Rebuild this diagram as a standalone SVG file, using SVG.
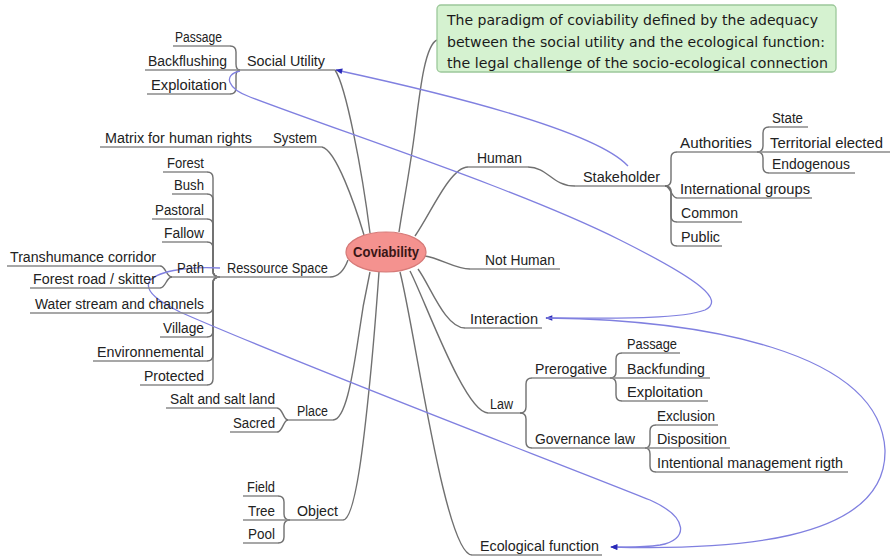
<svg xmlns="http://www.w3.org/2000/svg" width="894" height="557" viewBox="0 0 894 557">
<defs>
<style>
.t{font-family:"Liberation Sans",Arial,sans-serif;font-size:14px;fill:#222}
.u{stroke:#8a8a8a;stroke-width:1.5;fill:none}
.b{stroke:#707070;stroke-width:1.4;fill:none}
.r{stroke:#8080e0;stroke-width:1.3;fill:none}
.g{font-family:"DejaVu Sans",Verdana,sans-serif;font-size:14px;fill:#1a1a1a}
</style>
<marker id="arr" viewBox="0 0 10 10" refX="9" refY="5" markerWidth="8" markerHeight="7" orient="auto" markerUnits="userSpaceOnUse"><path d="M0,1 L10,5 L0,9 z" fill="#2a2ab8"/></marker>
</defs>
<rect width="894" height="557" fill="#ffffff"/>

<g id="connectors">
<!-- main branches -->
<path class="b" d="M335,70 C346,86 362,170 370,233"/>
<path class="b" d="M437,40 C425,45 420,90 415,130 C410,170 403,205 399,232"/>
<path class="b" d="M322,147 C336,150 355,205 364,235"/>
<path class="b" d="M330,277 C340,277 345,268 348,260"/>
<path class="b" d="M333,420 C345,420 352,380 358,340 C362,310 366,290 370,272"/>
<path class="b" d="M343,520 C356,520 365,430 370,380 C374,340 377,300 379,272"/>
<path class="b" d="M400,272 C415,330 445,555 472,555"/>
<path class="b" d="M410,271 C425,300 465,413 488,413"/>
<path class="b" d="M418,269 C430,285 445,328 465,328"/>
<path class="b" d="M425,256 C440,258 455,269 470,269"/>
<path class="b" d="M415,236 C430,215 450,167 468,167"/>
<path class="b" d="M528,167 C548,167 552,186 575,186"/>
<!-- Social Utility bracket -->
<path class="b" d="M240,70 Q236,70 236,64 L236,52 Q236,46 230,46"/>
<path class="b" d="M240,70 Q236,70 236,76 L236,88 Q236,94 230,94"/>
<!-- Ressource Space bracket -->
<path class="b" d="M220,277 Q213,277 213,271 L213,178 Q213,172 207,172"/>
<path class="b" d="M220,277 Q213,277 213,271 L213,200 Q213,194 207,194"/>
<path class="b" d="M220,277 Q213,277 213,271 L213,225 Q213,219 207,219"/>
<path class="b" d="M220,277 Q213,277 213,271 L213,248 Q213,242 207,242"/>
<path class="b" d="M220,277 Q213,277 213,283 L213,307 Q213,313 207,313"/>
<path class="b" d="M220,277 Q213,277 213,283 L213,331 Q213,337 207,337"/>
<path class="b" d="M220,277 Q213,277 213,283 L213,355 Q213,361 207,361"/>
<path class="b" d="M220,277 Q213,277 213,283 L213,379 Q213,385 207,385"/>
<!-- Path bracket -->
<path class="b" d="M172,277 C166,277 166,266 160,266"/>
<path class="b" d="M172,277 C166,277 166,288 160,288"/>
<!-- Place bracket -->
<path class="b" d="M288,420 C283,420 283,408 277,408"/>
<path class="b" d="M288,420 C283,420 283,432 277,432"/>
<!-- Object bracket -->
<path class="b" d="M290,520 Q284,520 284,514 L284,502 Q284,496 278,496"/>
<path class="b" d="M290,520 Q284,520 284,526 L284,537 Q284,543 278,543"/>
<!-- Stakeholder bracket -->
<path class="b" d="M665,186 Q671,186 671,180 L671,158 Q671,152 677,152"/>
<path class="b" d="M665,186 C671,186 671,198 677,198"/>
<path class="b" d="M665,186 Q671,186 671,192 L671,216 Q671,222 677,222"/>
<path class="b" d="M665,186 Q671,186 671,192 L671,240 Q671,246 677,246"/>
<!-- Authorities bracket -->
<path class="b" d="M757,152 Q763,152 763,146 L763,133 Q763,127 769,127"/>
<path class="b" d="M757,152 Q763,152 763,158 L763,167 Q763,173 769,173"/>
<!-- Law bracket -->
<path class="b" d="M520,413 Q526,413 526,407 L526,384 Q526,378 532,378"/>
<path class="b" d="M520,413 Q526,413 526,419 L526,442 Q526,448 532,448"/>
<!-- Prerogative bracket -->
<path class="b" d="M610,378 Q616,378 616,372 L616,359 Q616,353 622,353"/>
<path class="b" d="M610,378 Q616,378 616,384 L616,395 Q616,401 622,401"/>
<!-- Governance law bracket -->
<path class="b" d="M645,448 Q650,448 650,442 L650,431 Q650,425 656,425"/>
<path class="b" d="M645,448 Q650,448 650,454 L650,466 Q650,472 656,472"/>
<!-- relations -->
<path class="r" d="M628,166 Q590,125 336,70" marker-end="url(#arr)"/>
<path class="r" d="M240,71 C222,75 228,89 250,97 C350,135 520,190 620,240 C700,280 725,300 705,310 C680,320 600,318 546,318" marker-end="url(#arr)"/>
<path class="r" d="M220,268 C185,266 155,272 149,282 C145,292 160,302 180,312 C300,365 550,460 650,500 C690,518 688,540 660,545 C640,548 625,547 611,547" marker-end="url(#arr)"/>
<path class="r" d="M547,318 C700,320 880,350 885,450 C887,545 720,550 611,547" marker-end="url(#arr)"/>
</g>

<g id="n-topic">
<rect x="437" y="5" width="399" height="67" rx="4" fill="#d5f2d0" stroke="#9cc89a" stroke-width="1.3"/>
<text class="g" x="447" y="25" textLength="371" lengthAdjust="spacingAndGlyphs">The paradigm of coviability defined by the adequacy</text>
<text class="g" x="447" y="47" textLength="378" lengthAdjust="spacingAndGlyphs">between the social utility and the ecological function:</text>
<text class="g" x="447" y="68" textLength="381" lengthAdjust="spacingAndGlyphs">the legal challenge of the socio-ecological connection</text>
</g>

<g id="n-coviability">
<ellipse cx="386" cy="252" rx="40" ry="20" fill="#f4928f" stroke="#d67a78" stroke-width="1.2"/>
<text x="386" y="257" text-anchor="middle" font-family="Liberation Sans,Arial,sans-serif" font-size="15" font-weight="bold" fill="#3a1616" textLength="66" lengthAdjust="spacingAndGlyphs">Coviability</text>
</g>

<g id="n-social-utility"><line class="u" x1="240" y1="70" x2="335" y2="70"/><text class="t" x="247" y="66" textLength="78" lengthAdjust="spacingAndGlyphs">Social Utility</text></g>
<g id="n-su-passage"><line class="u" x1="173" y1="46" x2="230" y2="46"/><text class="t" x="175" y="42" textLength="47" lengthAdjust="spacingAndGlyphs">Passage</text></g>
<g id="n-su-backflushing"><line class="u" x1="145" y1="70" x2="240" y2="70"/><text class="t" x="148" y="66" textLength="79" lengthAdjust="spacingAndGlyphs">Backflushing</text></g>
<g id="n-su-exploitation"><line class="u" x1="147" y1="94" x2="230" y2="94"/><text class="t" x="151" y="90" textLength="76" lengthAdjust="spacingAndGlyphs">Exploitation</text></g>

<g id="n-system"><line class="u" x1="265" y1="147" x2="322" y2="147"/><text class="t" x="273" y="143" textLength="44" lengthAdjust="spacingAndGlyphs">System</text></g>
<g id="n-matrix"><line class="u" x1="100" y1="147" x2="265" y2="147"/><text class="t" x="105" y="143" textLength="147" lengthAdjust="spacingAndGlyphs">Matrix for human rights</text></g>

<g id="n-ressource-space"><line class="u" x1="220" y1="277" x2="330" y2="277"/><text class="t" x="227" y="273" textLength="101" lengthAdjust="spacingAndGlyphs">Ressource Space</text></g>
<g id="n-forest"><line class="u" x1="163" y1="172" x2="207" y2="172"/><text class="t" x="167" y="168" textLength="37" lengthAdjust="spacingAndGlyphs">Forest</text></g>
<g id="n-bush"><line class="u" x1="172" y1="194" x2="207" y2="194"/><text class="t" x="174" y="190" textLength="30" lengthAdjust="spacingAndGlyphs">Bush</text></g>
<g id="n-pastoral"><line class="u" x1="152" y1="219" x2="207" y2="219"/><text class="t" x="155" y="215" textLength="49" lengthAdjust="spacingAndGlyphs">Pastoral</text></g>
<g id="n-fallow"><line class="u" x1="162" y1="242" x2="207" y2="242"/><text class="t" x="164" y="238" textLength="40" lengthAdjust="spacingAndGlyphs">Fallow</text></g>
<g id="n-path"><line class="u" x1="172" y1="277" x2="220" y2="277"/><text class="t" x="177" y="273" textLength="27" lengthAdjust="spacingAndGlyphs">Path</text></g>
<g id="n-transhumance"><line class="u" x1="7" y1="266" x2="160" y2="266"/><text class="t" x="10" y="262" textLength="146" lengthAdjust="spacingAndGlyphs">Transhumance corridor</text></g>
<g id="n-forest-road"><line class="u" x1="30" y1="288" x2="160" y2="288"/><text class="t" x="33" y="284" textLength="123" lengthAdjust="spacingAndGlyphs">Forest road / skitter</text></g>
<g id="n-water"><line class="u" x1="30" y1="313" x2="207" y2="313"/><text class="t" x="35" y="309" textLength="169" lengthAdjust="spacingAndGlyphs">Water stream and channels</text></g>
<g id="n-village"><line class="u" x1="160" y1="337" x2="207" y2="337"/><text class="t" x="163" y="333" textLength="41" lengthAdjust="spacingAndGlyphs">Village</text></g>
<g id="n-environnemental"><line class="u" x1="93" y1="361" x2="207" y2="361"/><text class="t" x="97" y="357" textLength="107" lengthAdjust="spacingAndGlyphs">Environnemental</text></g>
<g id="n-protected"><line class="u" x1="140" y1="385" x2="207" y2="385"/><text class="t" x="144" y="381" textLength="60" lengthAdjust="spacingAndGlyphs">Protected</text></g>

<g id="n-place"><line class="u" x1="288" y1="420" x2="333" y2="420"/><text class="t" x="297" y="416" textLength="31" lengthAdjust="spacingAndGlyphs">Place</text></g>
<g id="n-salt"><line class="u" x1="166" y1="408" x2="277" y2="408"/><text class="t" x="170" y="404" textLength="105" lengthAdjust="spacingAndGlyphs">Salt and salt land</text></g>
<g id="n-sacred"><line class="u" x1="230" y1="432" x2="277" y2="432"/><text class="t" x="233" y="428" textLength="42" lengthAdjust="spacingAndGlyphs">Sacred</text></g>

<g id="n-object"><line class="u" x1="290" y1="520" x2="343" y2="520"/><text class="t" x="297" y="516" textLength="41" lengthAdjust="spacingAndGlyphs">Object</text></g>
<g id="n-field"><line class="u" x1="243" y1="496" x2="278" y2="496"/><text class="t" x="247" y="492" textLength="28" lengthAdjust="spacingAndGlyphs">Field</text></g>
<g id="n-tree"><line class="u" x1="243" y1="520" x2="290" y2="520"/><text class="t" x="248" y="516" textLength="27" lengthAdjust="spacingAndGlyphs">Tree</text></g>
<g id="n-pool"><line class="u" x1="243" y1="543" x2="278" y2="543"/><text class="t" x="248" y="539" textLength="27" lengthAdjust="spacingAndGlyphs">Pool</text></g>

<g id="n-ecological"><line class="u" x1="472" y1="555" x2="602" y2="555"/><text class="t" x="480" y="551" textLength="119" lengthAdjust="spacingAndGlyphs">Ecological function</text></g>

<g id="n-law"><line class="u" x1="488" y1="413" x2="520" y2="413"/><text class="t" x="490" y="409" textLength="23" lengthAdjust="spacingAndGlyphs">Law</text></g>
<g id="n-prerogative"><line class="u" x1="532" y1="378" x2="610" y2="378"/><text class="t" x="535" y="374" textLength="72" lengthAdjust="spacingAndGlyphs">Prerogative</text></g>
<g id="n-governance"><line class="u" x1="532" y1="448" x2="645" y2="448"/><text class="t" x="535" y="444" textLength="100" lengthAdjust="spacingAndGlyphs">Governance law</text></g>
<g id="n-law-passage"><line class="u" x1="622" y1="353" x2="680" y2="353"/><text class="t" x="627" y="349" textLength="50" lengthAdjust="spacingAndGlyphs">Passage</text></g>
<g id="n-backfunding"><line class="u" x1="610" y1="378" x2="710" y2="378"/><text class="t" x="627" y="374" textLength="78" lengthAdjust="spacingAndGlyphs">Backfunding</text></g>
<g id="n-law-exploitation"><line class="u" x1="622" y1="401" x2="708" y2="401"/><text class="t" x="627" y="397" textLength="76" lengthAdjust="spacingAndGlyphs">Exploitation</text></g>
<g id="n-exclusion"><line class="u" x1="656" y1="425" x2="718" y2="425"/><text class="t" x="657" y="421" textLength="58" lengthAdjust="spacingAndGlyphs">Exclusion</text></g>
<g id="n-disposition"><line class="u" x1="645" y1="448" x2="730" y2="448"/><text class="t" x="657" y="444" textLength="70" lengthAdjust="spacingAndGlyphs">Disposition</text></g>
<g id="n-intentional"><line class="u" x1="656" y1="472" x2="848" y2="472"/><text class="t" x="657" y="468" textLength="186" lengthAdjust="spacingAndGlyphs">Intentional management rigth</text></g>

<g id="n-interaction"><line class="u" x1="465" y1="328" x2="542" y2="328"/><text class="t" x="470" y="324" textLength="68" lengthAdjust="spacingAndGlyphs">Interaction</text></g>
<g id="n-not-human"><line class="u" x1="470" y1="269" x2="560" y2="269"/><text class="t" x="485" y="265" textLength="70" lengthAdjust="spacingAndGlyphs">Not Human</text></g>
<g id="n-human"><line class="u" x1="468" y1="167" x2="528" y2="167"/><text class="t" x="477" y="163" textLength="45" lengthAdjust="spacingAndGlyphs">Human</text></g>
<g id="n-stakeholder"><line class="u" x1="575" y1="186" x2="665" y2="186"/><text class="t" x="583" y="182" textLength="77" lengthAdjust="spacingAndGlyphs">Stakeholder</text></g>
<g id="n-authorities"><line class="u" x1="677" y1="152" x2="757" y2="152"/><text class="t" x="680" y="148" textLength="72" lengthAdjust="spacingAndGlyphs">Authorities</text></g>
<g id="n-state"><line class="u" x1="769" y1="127" x2="808" y2="127"/><text class="t" x="772" y="123" textLength="31" lengthAdjust="spacingAndGlyphs">State</text></g>
<g id="n-territorial"><line class="u" x1="757" y1="152" x2="890" y2="152"/><text class="t" x="770" y="148" textLength="113" lengthAdjust="spacingAndGlyphs">Territorial elected</text></g>
<g id="n-endogenous"><line class="u" x1="769" y1="173" x2="855" y2="173"/><text class="t" x="772" y="169" textLength="78" lengthAdjust="spacingAndGlyphs">Endogenous</text></g>
<g id="n-international"><line class="u" x1="677" y1="198" x2="812" y2="198"/><text class="t" x="680" y="194" textLength="130" lengthAdjust="spacingAndGlyphs">International groups</text></g>
<g id="n-common"><line class="u" x1="677" y1="222" x2="742" y2="222"/><text class="t" x="681" y="218" textLength="57" lengthAdjust="spacingAndGlyphs">Common</text></g>
<g id="n-public"><line class="u" x1="677" y1="246" x2="722" y2="246"/><text class="t" x="681" y="242" textLength="39" lengthAdjust="spacingAndGlyphs">Public</text></g>
</svg>
